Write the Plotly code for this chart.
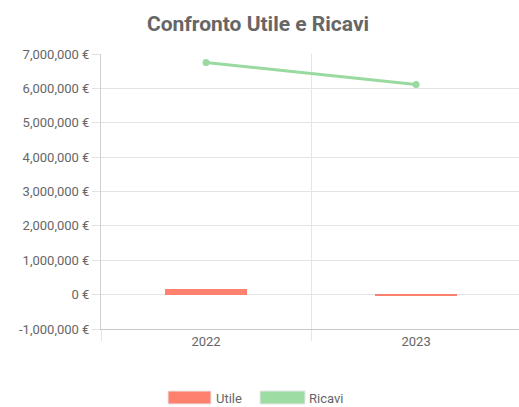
import plotly.graph_objects as go

years = ["2022", "2023"]
utile = [165000, -40000]
ricavi = [6750000, 6110000]
tick_values = [-1000000, 0, 1000000, 2000000, 3000000, 4000000, 5000000, 6000000, 7000000]
tick_labels = ["-1,000,000 €", "0 €", "1,000,000 €", "2,000,000 €", "3,000,000 €",
               "4,000,000 €", "5,000,000 €", "6,000,000 €", "7,000,000 €"]

FONT = "Roboto"
GRAY = "#666666"
GRID = "#e4e4e4"

fig = go.Figure()
fig.add_trace(go.Bar(x=years, y=utile, name="Utile", marker_color="#fe8170",
                     marker_line_width=0, width=0.39, showlegend=False))
fig.add_trace(go.Scatter(x=years, y=ricavi, name="Ricavi", mode="lines+markers",
                         line=dict(color="#98da9f", width=3),
                         marker=dict(color="#98da9f", size=7), showlegend=False))

fig.update_layout(
    width=519, height=407,
    margin=dict(l=101, r=0, t=54, b=78, autoexpand=False),
    paper_bgcolor="white", plot_bgcolor="white",
    font=dict(family=FONT, color=GRAY, size=13),
    title=dict(text="<b>Confronto Utile e Ricavi</b>", x=(258)/519, xanchor="center",
               y=1 - 24/407, yanchor="middle", font=dict(family=FONT, size=21, color=GRAY)),
    bargap=0,
)
fig.update_yaxes(range=[-1000000, 7000000], tickvals=tick_values, ticktext=tick_labels,
                 gridcolor=GRID, gridwidth=1, zeroline=False, automargin=False,
                 showline=True, linecolor="#d0d0d0", linewidth=1,
                 ticks="outside", ticklen=8, tickcolor=GRID, tickfont=dict(size=13, color=GRAY))
fig.update_xaxes(tickson="boundaries", showgrid=True, gridcolor=GRID, ticks="outside",
                 ticklen=11, tickcolor=GRID, showline=True, linecolor="#c8c8c8", automargin=False,
                 tickfont=dict(size=13, color=GRAY), range=[-0.5, 1.49])

# custom legend
fig.add_shape(type="rect", xref="paper", yref="paper", x0=(168-101)/418, x1=(211-101)/418,
              y0=-(391-329)/275, y1=-(404-329)/275, fillcolor="#fe8170",
              line=dict(color="#e8e8e8", width=1))
fig.add_annotation(text="Utile", xref="paper", yref="paper", x=(214-101)/418, y=-(398-329)/275,
                   xanchor="left", yanchor="middle", showarrow=False, font=dict(size=13, color=GRAY))
fig.add_shape(type="rect", xref="paper", yref="paper", x0=(260-101)/418, x1=(305-101)/418,
              y0=-(391-329)/275, y1=-(404-329)/275, fillcolor="#9ddca3",
              line=dict(color="#e8e8e8", width=1))
fig.add_annotation(text="Ricavi", xref="paper", yref="paper", x=(307-101)/418, y=-(398-329)/275,
                   xanchor="left", yanchor="middle", showarrow=False, font=dict(size=13, color=GRAY))

fig.write_html("out.html", config={"displayModeBar": False},
               post_script="document.body.style.margin='0';document.body.style.overflow='hidden';")
